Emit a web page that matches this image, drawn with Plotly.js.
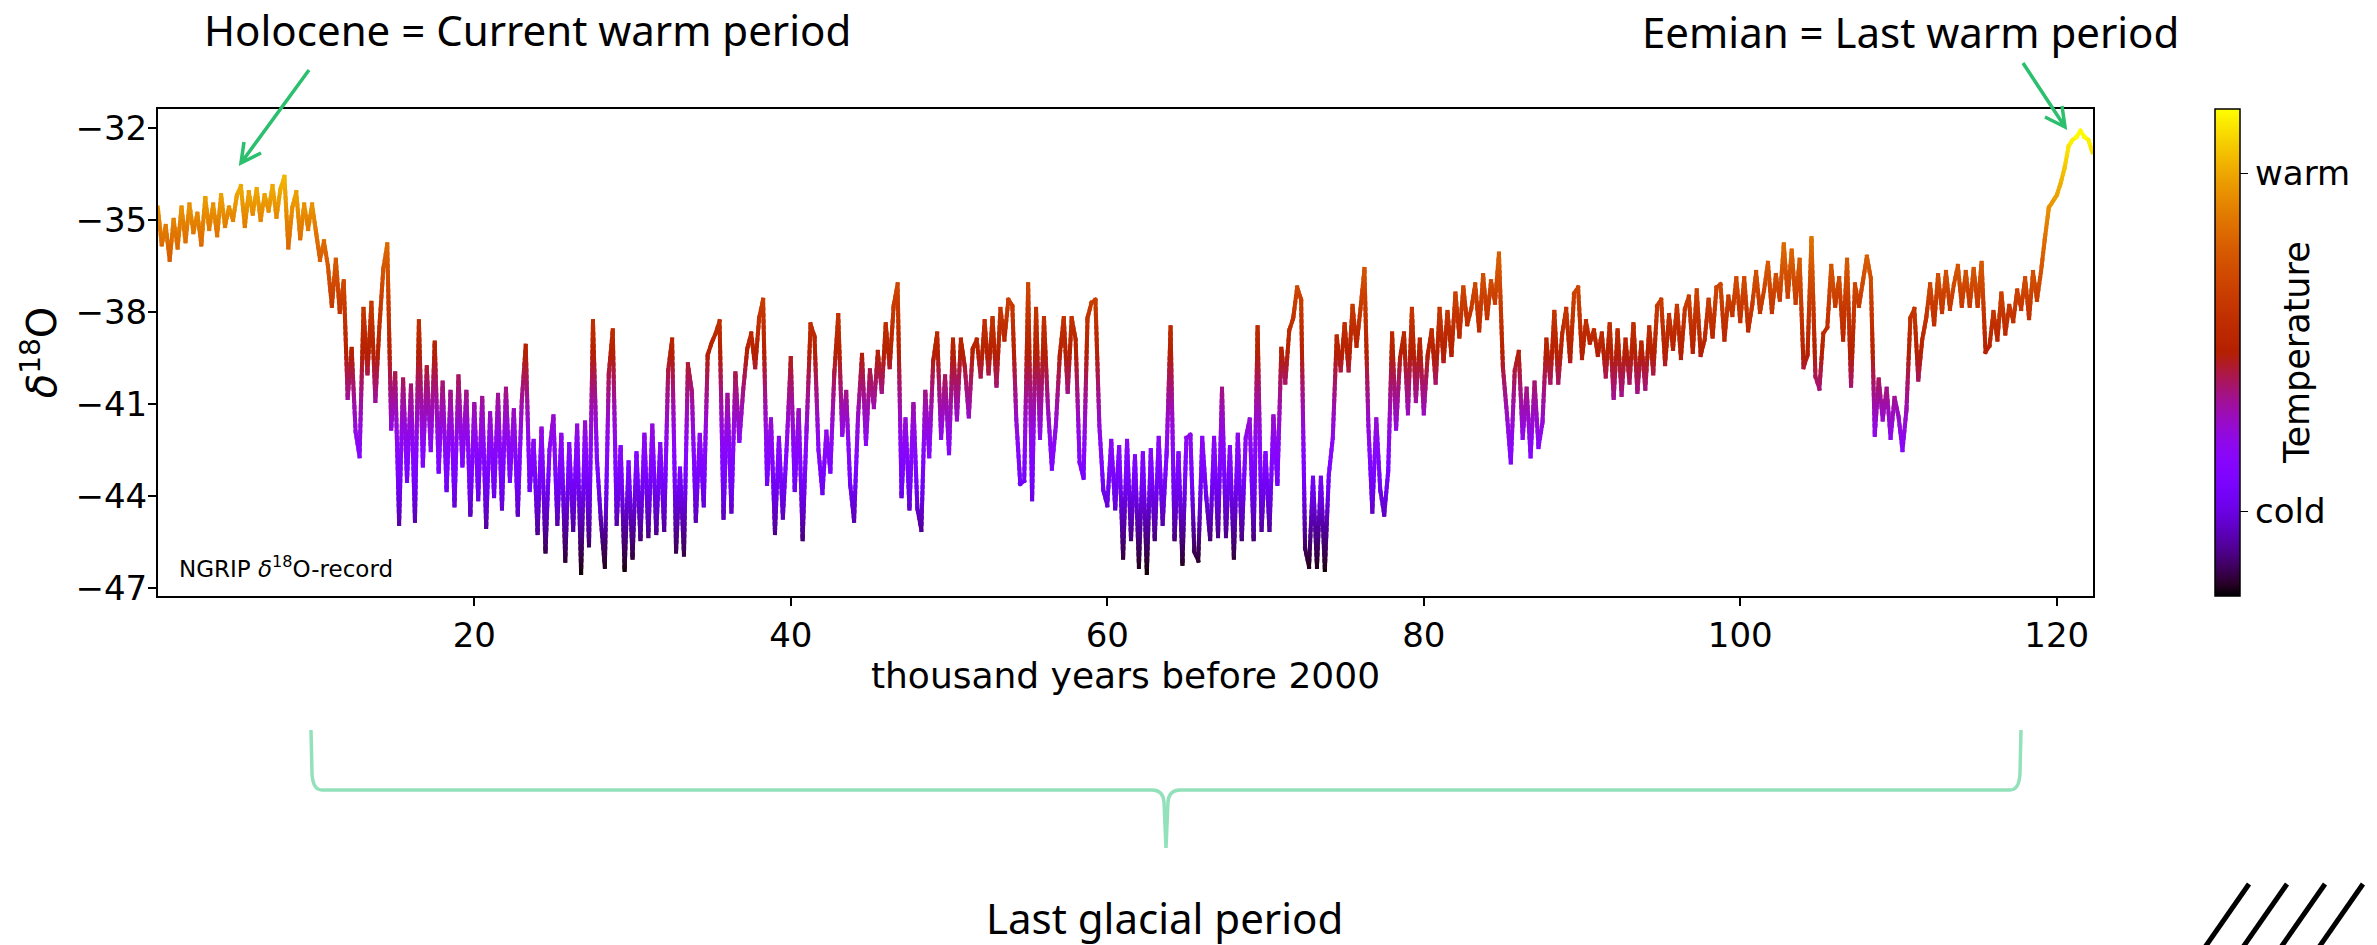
<!DOCTYPE html>
<html><head><meta charset="utf-8">
<script src="https://cdn.plot.ly/plotly-3.0.1.min.js"></script>
<style>
html,body{margin:0;padding:0;background:#fff;}
#chart{width:2377px;height:945px;}
.scatterlayer .js-line{stroke-linecap:square !important;}
</style></head><body><div id="chart"></div>
<script>
// ages in thousand years before 2000
const age = [
0,0.25,0.5,0.75,1,1.25,1.5,1.75,2,2.25,2.5,2.75,3,3.25,3.5,3.75,4,4.25,4.5,4.75,
5,5.25,5.5,5.75,6,6.25,6.5,6.75,7,7.25,7.5,7.75,8,8.25,8.5,8.75,9,9.25,9.5,9.75,
10,10.25,10.5,10.75,11,11.25,11.5,11.75,12,12.25,12.5,12.75,13,13.25,13.5,13.75,14,14.25,14.5,14.75,
15,15.25,15.5,15.75,16,16.25,16.5,16.75,17,17.25,17.5,17.75,18,18.25,18.5,18.75,19,19.25,19.5,19.75,
20,20.25,20.5,20.75,21,21.25,21.5,21.75,22,22.25,22.5,22.75,23,23.25,23.5,23.75,24,24.25,24.5,24.75,
25,25.25,25.5,25.75,26,26.25,26.5,26.75,27,27.25,27.5,27.75,28,28.25,28.5,28.75,29,29.25,29.5,29.75,
30,30.25,30.5,30.75,31,31.25,31.5,31.75,32,32.25,32.5,32.75,33,33.25,33.5,33.75,34,34.25,34.5,34.75,
35,35.25,35.5,35.75,36,36.25,36.5,36.75,37,37.25,37.5,37.75,38,38.25,38.5,38.75,39,39.25,39.5,39.75,
40,40.25,40.5,40.75,41,41.25,41.5,41.75,42,42.25,42.5,42.75,43,43.25,43.5,43.75,44,44.25,44.5,44.75,
45,45.25,45.5,45.75,46,46.25,46.5,46.75,47,47.25,47.5,47.75,48,48.25,48.5,48.75,49,49.25,49.5,49.75,
50,50.25,50.5,50.75,51,51.25,51.5,51.75,52,52.25,52.5,52.75,53,53.25,53.5,53.75,54,54.25,54.5,54.75,
55,55.25,55.5,55.75,56,56.25,56.5,56.75,57,57.25,57.5,57.75,58,58.25,58.5,58.75,59,59.25,59.5,59.75,
60,60.25,60.5,60.75,61,61.25,61.5,61.75,62,62.25,62.5,62.75,63,63.25,63.5,63.75,64,64.25,64.5,64.75,
65,65.25,65.5,65.75,66,66.25,66.5,66.75,67,67.25,67.5,67.75,68,68.25,68.5,68.75,69,69.25,69.5,69.75,
70,70.25,70.5,70.75,71,71.25,71.5,71.75,72,72.25,72.5,72.75,73,73.25,73.5,73.75,74,74.25,74.5,74.75,
75,75.25,75.5,75.75,76,76.25,76.5,76.75,77,77.25,77.5,77.75,78,78.25,78.5,78.75,79,79.25,79.5,79.75,
80,80.25,80.5,80.75,81,81.25,81.5,81.75,82,82.25,82.5,82.75,83,83.25,83.5,83.75,84,84.25,84.5,84.75,
85,85.25,85.5,85.75,86,86.25,86.5,86.75,87,87.25,87.5,87.75,88,88.25,88.5,88.75,89,89.25,89.5,89.75,
90,90.25,90.5,90.75,91,91.25,91.5,91.75,92,92.25,92.5,92.75,93,93.25,93.5,93.75,94,94.25,94.5,94.75,
95,95.25,95.5,95.75,96,96.25,96.5,96.75,97,97.25,97.5,97.75,98,98.25,98.5,98.75,99,99.25,99.5,99.75,
100,100.25,100.5,100.75,101,101.25,101.5,101.75,102,102.25,102.5,102.75,103,103.25,103.5,103.75,104,104.25,104.5,104.75,
105,105.25,105.5,105.75,106,106.25,106.5,106.75,107,107.25,107.5,107.75,108,108.25,108.5,108.75,109,109.25,109.5,109.75,
110,110.25,110.5,110.75,111,111.25,111.5,111.75,112,112.25,112.5,112.75,113,113.25,113.5,113.75,114,114.25,114.5,114.75,
115,115.25,115.5,115.75,116,116.25,116.5,116.75,117,117.25,117.5,117.75,118,118.25,118.5,118.75,119,119.25,119.5,119.75,
120,120.25,120.5,120.75,121,121.25,121.5,121.75,122,122.25
];
// NGRIP delta-18O values (permil)
const d18O = [
-34.6,-35.8,-35.2,-36.3,-35.0,-35.9,-34.6,-35.7,-34.5,-35.4,-34.8,-35.8,-34.3,-35.3,-34.5,-35.5,-34.2,-35.2,-34.6,-35.0,
-34.2,-33.9,-35.2,-34.1,-34.8,-34.0,-35.0,-34.2,-34.7,-33.9,-34.9,-34.0,-33.6,-35.9,-34.6,-34.1,-35.6,-34.5,-35.3,-34.5,
-35.4,-36.3,-35.7,-36.5,-37.8,-36.3,-38.0,-37.0,-40.8,-39.2,-41.9,-42.7,-37.9,-40.0,-37.7,-40.9,-38.5,-36.6,-35.8,-41.8,
-40.0,-44.9,-40.2,-43.5,-40.4,-44.8,-38.3,-43.0,-39.8,-42.5,-39.0,-43.2,-40.3,-43.8,-40.6,-44.3,-40.1,-43.0,-40.6,-44.6,
-41.0,-44.1,-40.8,-45.0,-41.3,-44.0,-40.7,-44.4,-40.5,-43.5,-41.2,-44.6,-40.9,-39.1,-43.8,-42.2,-45.2,-41.8,-45.8,-42.5,
-41.4,-44.9,-42.0,-46.1,-42.3,-45.1,-41.7,-46.5,-41.6,-45.6,-38.3,-42.8,-44.8,-46.3,-40.0,-38.6,-44.9,-42.4,-46.4,-42.9,
-46.0,-42.6,-45.4,-42.0,-45.3,-41.7,-45.2,-42.3,-45.1,-39.9,-38.9,-45.8,-43.1,-45.9,-39.7,-40.6,-44.8,-42.0,-44.3,-39.4,
-39.0,-38.7,-38.3,-44.7,-40.7,-44.5,-40.0,-42.2,-40.5,-39.2,-38.7,-39.8,-38.2,-37.6,-43.6,-41.5,-45.2,-42.1,-44.7,-42.3,
-39.5,-43.8,-41.2,-45.4,-41.8,-38.4,-38.8,-42.5,-43.9,-41.9,-43.2,-40.0,-38.1,-42.0,-40.6,-43.6,-44.8,-41.4,-39.4,-42.3,
-39.9,-41.1,-39.3,-40.6,-38.4,-39.8,-37.8,-37.1,-44.0,-41.5,-44.4,-41.0,-44.4,-45.1,-40.6,-42.7,-39.6,-38.7,-42.1,-40.1,
-42.6,-38.9,-41.5,-38.9,-39.8,-41.4,-39.2,-38.9,-40.1,-38.3,-40.0,-38.2,-40.4,-37.9,-38.9,-37.6,-37.8,-41.5,-43.6,-43.5,
-37.1,-44.1,-37.9,-42.1,-38.2,-41.1,-43.1,-41.7,-39.4,-38.2,-40.6,-38.2,-38.9,-42.9,-43.4,-38.2,-37.7,-37.6,-41.7,-43.8,
-44.3,-42.2,-44.4,-42.4,-46.0,-42.2,-45.4,-42.7,-46.3,-42.6,-46.5,-42.5,-45.4,-42.1,-44.9,-42.6,-38.5,-45.4,-42.6,-46.2,
-42.1,-42.0,-45.8,-46.1,-42.1,-44.0,-45.4,-42.1,-45.3,-40.5,-45.3,-42.4,-46.0,-42.0,-45.4,-42.1,-41.5,-45.4,-38.5,-45.1,
-42.6,-45.1,-41.4,-43.6,-39.2,-40.3,-38.6,-38.2,-37.2,-37.6,-45.7,-46.3,-43.4,-46.3,-43.4,-46.4,-43.3,-42.1,-38.8,-39.9,
-38.4,-39.9,-37.8,-39.1,-37.9,-36.6,-41.7,-44.5,-41.5,-43.8,-44.6,-43.2,-38.7,-41.8,-39.5,-38.7,-41.3,-37.9,-40.9,-38.9,
-41.3,-39.4,-38.6,-40.3,-37.9,-39.6,-38.0,-39.4,-37.4,-38.8,-37.2,-38.4,-37.9,-37.1,-38.6,-36.8,-38.2,-37.0,-37.7,-36.1,
-39.8,-41.3,-42.9,-39.9,-39.3,-42.1,-40.5,-42.7,-40.3,-42.4,-41.6,-38.9,-40.3,-38.0,-40.3,-38.7,-37.9,-39.6,-37.4,-37.2,
-39.5,-38.3,-39.0,-38.6,-39.4,-38.7,-40.1,-38.4,-40.8,-38.6,-40.7,-38.9,-40.3,-38.4,-40.6,-39.0,-40.5,-38.5,-40.0,-37.8,
-37.6,-39.7,-38.1,-39.2,-37.8,-39.5,-37.9,-37.5,-39.3,-37.3,-39.4,-38.9,-37.6,-38.8,-37.2,-37.1,-38.9,-37.5,-38.1,-36.9,
-38.3,-36.9,-38.6,-37.8,-36.7,-38.0,-37.3,-36.4,-38.0,-36.8,-37.6,-35.8,-37.5,-36.0,-37.7,-36.3,-39.8,-39.4,-35.6,-40.1,
-40.5,-38.7,-38.5,-36.5,-37.8,-36.9,-38.9,-36.3,-40.4,-37.1,-37.8,-37.0,-36.2,-36.9,-42.0,-40.2,-41.5,-40.5,-42.1,-40.8,
-41.4,-42.5,-41.2,-38.2,-37.9,-40.2,-38.9,-38.2,-37.1,-38.4,-36.8,-38.0,-36.7,-37.9,-37.1,-36.5,-37.8,-36.7,-37.8,-36.6,
-37.8,-36.4,-39.3,-39.1,-38.0,-38.9,-37.4,-38.7,-37.8,-38.3,-37.3,-37.9,-36.9,-38.2,-36.7,-37.6,-36.7,-35.6,-34.6,-34.4,
-34.2,-33.8,-33.3,-32.6,-32.4,-32.3,-32.1,-32.3,-32.4,-32.8
];
const xTickVals = [20, 40, 60, 80, 100, 120];
const yTickVals = [-32, -35, -38, -41, -44, -47];
const yTickText = ['\u221232', '\u221235', '\u221238', '\u221241', '\u221244', '\u221247'];
const cbTickVals = [-34, -44];
const cbTickText = ['warm', 'cold'];
const xTitle = 'thousand years before 2000';
const yTitle = '<i>δ</i><sup>18</sup>O';
const cbTitle = 'Temperature';
const recordLabel = 'NGRIP <i>δ</i><sup>18</sup>O-record';
const holoceneText = 'Holocene = Current warm period';
const eemianText = 'Eemian = Last warm period';
const glacialText = 'Last glacial period';

// ---- gnuplot colormap ----
function gnuplot(t){
  t = Math.max(0, Math.min(1, t));
  const r = Math.sqrt(t), g = t*t*t, b = Math.max(0, Math.sin(2*Math.PI*t));
  return 'rgb(' + Math.round(255*r) + ',' + Math.round(255*g) + ',' + Math.round(255*b) + ')';
}
const cmin = Math.min(...d18O), cmax = Math.max(...d18O);
const colorscale = [];
for (let i = 0; i <= 40; i++) colorscale.push([i/40, gnuplot(i/40)]);

// ---- split the line into colour bands (gradient by value) ----
const NB = 72;
const bands = Array.from({length: NB}, () => ({x: [], y: []}));
const edge = k => cmin + (cmax - cmin) * k / NB;
const bandOf = v => Math.max(0, Math.min(NB - 1, Math.floor((v - cmin) / (cmax - cmin) * NB)));
for (let i = 0; i < age.length - 1; i++) {
  const x0 = age[i], y0 = d18O[i], x1 = age[i+1], y1 = d18O[i+1];
  const lo = Math.min(y0, y1), hi = Math.max(y0, y1);
  const cuts = [];
  for (let k = 1; k < NB; k++) { const e = edge(k); if (e > lo && e < hi) cuts.push(e); }
  if (y1 < y0) cuts.reverse();
  const pts = [[x0, y0]];
  for (const e of cuts) { const t = (e - y0) / (y1 - y0); pts.push([x0 + t*(x1 - x0), e]); }
  pts.push([x1, y1]);
  for (let j = 0; j < pts.length - 1; j++) {
    const b = bandOf((pts[j][1] + pts[j+1][1]) / 2);
    bands[b].x.push(pts[j][0], pts[j+1][0], null);
    bands[b].y.push(pts[j][1], pts[j+1][1], null);
  }
}
const traces = bands.map((b, k) => ({
  type: 'scatter', mode: 'lines', x: b.x, y: b.y,
  line: {color: gnuplot((k + 0.5) / NB), width: 4, simplify: false},
  hoverinfo: 'skip', showlegend: false
}));

// colourbar carrier
traces.push({
  type: 'scatter', mode: 'markers', x: age, y: d18O, hoverinfo: 'skip', showlegend: false,
  marker: {size: 1, opacity: 0, color: d18O, cmin: cmin, cmax: cmax, colorscale: colorscale, showscale: true,
    colorbar: {
      x: 1.063, xanchor: 'left', xpad: 0, y: 0.5, yanchor: 'middle', ypad: 0,
      len: 1, lenmode: 'fraction', thickness: 25, thicknessmode: 'pixels',
      outlinecolor: '#000', outlinewidth: 1.5,
      tickvals: cbTickVals, ticktext: cbTickText, ticks: 'outside', ticklen: 8, tickwidth: 1.5, tickcolor: '#000',
      tickfont: {family: 'DejaVu Sans', size: 34, color: '#000'}
    }}
});

// pixel -> paper helpers for decorations
const L = 158, T = 109, W = 1935, H = 487;
const px = x => ((x - L) / W).toFixed(5);
const py = y => ((T + H - y) / H).toFixed(5);
const P = (x, y) => px(x) + ',' + py(y);

const green = '#2BBF6E';
const brace = '#93E1BA';
const shapes = [
  {type: 'path', xref: 'paper', yref: 'paper', line: {color: green, width: 3.5},
   path: 'M' + P(309, 70) + ' L' + P(241, 163) + ' M' + P(261, 153) + ' L' + P(241, 163) + ' L' + P(244, 142)},
  {type: 'path', xref: 'paper', yref: 'paper', line: {color: green, width: 3.5},
   path: 'M' + P(2023, 63) + ' L' + P(2065, 127) + ' M' + P(2045, 117) + ' L' + P(2065, 127) + ' L' + P(2062, 106)},
  {type: 'path', xref: 'paper', yref: 'paper', line: {color: brace, width: 3.5},
   path: 'M' + P(311, 730) + ' L' + P(312, 774) + ' Q' + P(313, 790) + ' ' + P(322, 790) +
         ' L' + P(1152, 790) + ' Q' + P(1163, 790) + ' ' + P(1164, 802) + ' L' + P(1166, 848) +
         ' M' + P(1166, 848) + ' L' + P(1168, 802) + ' Q' + P(1169, 790) + ' ' + P(1180, 790) +
         ' L' + P(2010, 790) + ' Q' + P(2019, 790) + ' ' + P(2020, 774) + ' L' + P(2021, 730)}
];
for (let k = 0; k < 4; k++) {
  const dx = k * 38;
  shapes.push({type: 'line', xref: 'paper', yref: 'paper', line: {color: '#000', width: 5},
    x0: px(2203 + dx), y0: py(950), x1: px(2249 + dx), y1: py(884)});
}

const annFont = {family: 'Noto Sans', size: 42, color: '#000'};
const annotations = [
  {xref: 'paper', yref: 'paper', x: px(527), y: py(29), text: holoceneText, showarrow: false, font: annFont, xanchor: 'center', yanchor: 'middle'},
  {xref: 'paper', yref: 'paper', x: px(1911), y: py(31), text: eemianText, showarrow: false, font: annFont, xanchor: 'center', yanchor: 'middle'},
  {xref: 'paper', yref: 'paper', x: px(1164), y: py(918), text: glacialText, showarrow: false, font: annFont, xanchor: 'center', yanchor: 'middle'},
  {xref: 'paper', yref: 'paper', x: px(177), y: py(567), text: recordLabel, showarrow: false,
   font: {family: 'DejaVu Sans', size: 23, color: '#000'}, xanchor: 'left', yanchor: 'middle'},
  {xref: 'paper', yref: 'paper', x: px(2297), y: py(353), text: cbTitle, showarrow: false, textangle: -90,
   font: {family: 'DejaVu Sans', size: 35, color: '#000'}, xanchor: 'center', yanchor: 'middle'}
];

const axisCommon = {
  showline: true, mirror: true, linecolor: '#000', linewidth: 2,
  ticks: 'outside', ticklen: 8, tickwidth: 2, tickcolor: '#000',
  showgrid: false, zeroline: false,
  tickfont: {family: 'DejaVu Sans', size: 34, color: '#000'}
};
const layout = {
  width: 2377, height: 945,
  margin: {l: L, r: 2377 - L - W, t: T, b: 945 - T - H, pad: 0},
  paper_bgcolor: '#fff', plot_bgcolor: '#fff',
  font: {family: 'DejaVu Sans', color: '#000'},
  showlegend: false,
  xaxis: Object.assign({}, axisCommon, {
    range: [0.013, 122.29], tickmode: 'array', tickvals: xTickVals,
    title: {text: xTitle, font: {family: 'DejaVu Sans', size: 36, color: '#000'}, standoff: 8}
  }),
  yaxis: Object.assign({}, axisCommon, {
    range: [-47.25, -31.39], tickmode: 'array', tickvals: yTickVals, ticktext: yTickText,
    ticklabelstandoff: -6,
    title: {text: yTitle, font: {family: 'DejaVu Sans', size: 40, color: '#000'}, standoff: 6}
  }),
  shapes: shapes,
  annotations: annotations
};
Plotly.newPlot('chart', traces, layout, {staticPlot: true, displayModeBar: false});
</script></body></html>
